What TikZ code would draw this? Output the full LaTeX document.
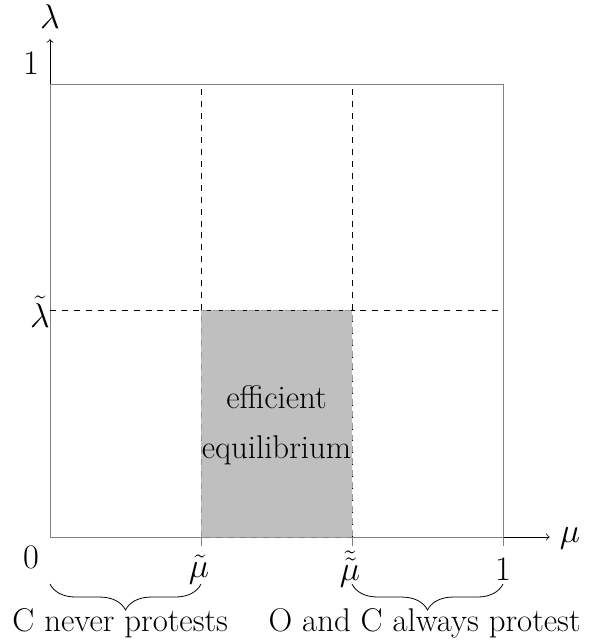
\documentclass[tikz,border=0pt]{standalone}
\usetikzlibrary{decorations.pathreplacing}
\begin{document}
\begin{tikzpicture}[x=8cm,y=8cm,
  every node/.style={font=\fontsize{16.5}{25}\selectfont,inner sep=0pt},
  axis/.style={->,black},
  frame/.style={draw=gray,thin},
  guide/.style={dashed,black},
  tick/.style={gray},
  region/.style={fill=gray!50,draw=gray!80,dashed},
  brc/.style={decorate,decoration={brace,mirror,amplitude=13pt}}]
\useasboundingbox (-0.1104,-0.2296) rectangle (1.1876,1.1854);
\coordinate (O) at (0,0);
\coordinate (xend) at (1.103,0);
\coordinate (yend) at (0,1.099);
\coordinate (A) at (1/3,0);
\coordinate (B) at (2/3,0);
\coordinate (C) at (1,0);
\coordinate (At) at (1/3,1);
\coordinate (Bt) at (2/3,1);
\coordinate (L) at (0,0.5);
\coordinate (Lr) at (1,0.5);
\coordinate (CT) at (1,1);
\fill[region] (A) rectangle (2/3,0.5);
\draw[axis] (O) -- (xend);
\draw[axis] (O) -- (yend);
\draw[frame] (O) rectangle (CT);
\draw[guide] (A) -- (At);
\draw[guide] (B) -- (Bt);
\draw[guide] (L) -- (Lr);
\draw[region,fill=none] (A) rectangle (2/3,0.5);
\foreach \p in {A,B,C} \draw[tick] (\p) -- ++(0,-0.02);
\node (mu) at (1.148,-0.004) {$\mu$};
\node (lam) at (0,1.148) {$\lambda$};
\node (n0) at (-0.042,-0.046) {$0$};
\node (nmu1) at (0.329,-0.072) {$\tilde{\mu}$};
\node (nmu2) at (0.662,-0.071) {$\tilde{\tilde{\mu}}$};
\node (n1x) at (1,-0.071) {$1$};
\node (n1y) at (-0.042,1.046) {$1$};
\node (nlam) at (-0.022,0.498) {$\tilde{\lambda}$};
\node[align=center] (eff) at (0.5,0.247) {efficient\\equilibrium};
\coordinate (b1s) at (0,-0.104);
\coordinate (b1e) at (1/3,-0.104);
\coordinate (b2s) at (2/3,-0.104);
\coordinate (b2e) at (1,-0.104);
\draw[brc] (b1s) -- (b1e);
\draw[brc] (b2s) -- (b2e);
\node (t1) at (0.155,-0.19) {C never protests};
\node (t2) at (0.827,-0.19) {O and C always protest};
\end{tikzpicture}
\end{document}
